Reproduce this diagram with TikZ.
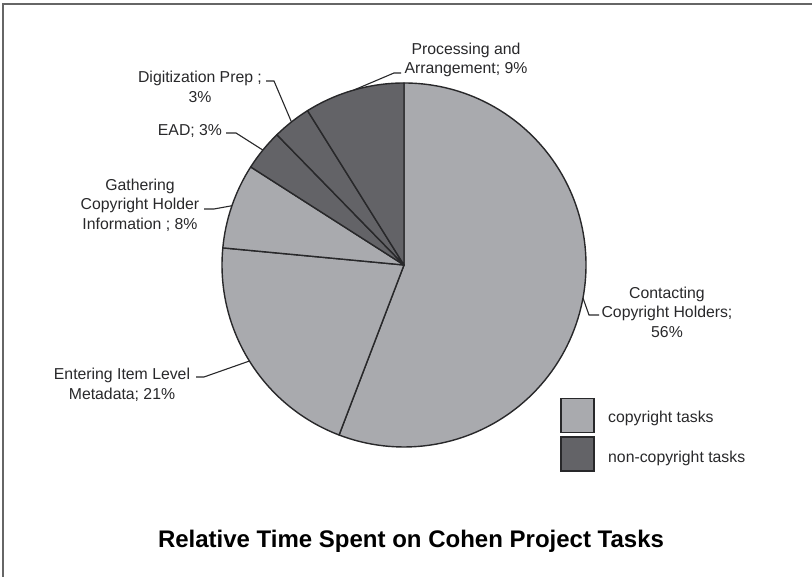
\documentclass[tikz,border=0pt]{standalone}
\usepackage{fontspec}
\setmainfont{Liberation Sans}
\usetikzlibrary{calc}

\definecolor{sliceLight}{RGB}{169,170,174}
\definecolor{sliceDark}{RGB}{99,99,103}
\definecolor{inkGray}{RGB}{40,40,42}

\begin{document}
\begin{tikzpicture}
    [x=1pt,y=1pt,
     light/.style={fill=sliceLight,draw=inkGray,line width=1.4pt,line join=round},
     dark/.style={fill=sliceDark,draw=inkGray,line width=1.4pt,line join=round},
     lead/.style={draw=inkGray,line width=1.1pt},
     lbl/.style={align=center,inner sep=0pt,text=inkGray,
       font=\fontsize{15.8}{19.5}\selectfont},
     key/.style={draw=inkGray,line width=1.2pt,minimum width=33pt,minimum height=34pt,inner sep=0pt}]
    \useasboundingbox (0,0) rectangle (812,577);
    \draw [gray!80!black,line width=1.6pt] (3,0) -- (3,573) -- (812,573);

    % pie, clockwise from the top
    \coordinate (c) at (404,312);
    \filldraw [light] (c) -- ++(90:182) arc [start angle=90, end angle=-110.9, radius=182] -- cycle;
    \filldraw [light] (c) -- ++(249.1:182) arc [start angle=249.1, end angle=174.6, radius=182] -- cycle;
    \filldraw [light] (c) -- ++(174.6:182) arc [start angle=174.6, end angle=147.4, radius=182] -- cycle;
    \filldraw [dark] (c) -- ++(147.4:182) arc [start angle=147.4, end angle=134.3, radius=182] -- cycle;
    \filldraw [dark] (c) -- ++(134.3:182) arc [start angle=134.3, end angle=122, radius=182] -- cycle;
    \filldraw [dark] (c) -- ++(122:182) arc [start angle=122, end angle=90, radius=182] -- cycle;

    % points on the rim for the leaders
    \coordinate (pCont) at ($(c)+(349.55:182)$);
    \coordinate (pEnt) at ($(c)+(211.85:182)$);
    \coordinate (pGath) at ($(c)+(161:182)$);
    \coordinate (pEad) at ($(c)+(140.85:182)$);
    \coordinate (pDig) at ($(c)+(128.2:182)$);
    \coordinate (pProc) at ($(c)+(106:182)$);

    % labels
    \node [lbl] (proc) at (466,517) {Processing and\\Arrangement; 9\%};
    \node [lbl] (dig) at (200,490) {Digitization Prep ;\\3\%};
    \node [lbl] (ead) at (190,446) {EAD; 3\%};
    \node [lbl] (gath) at (140,372) {Gathering\\Copyright Holder\\Information ; 8\%};
    \node [lbl] (ent) at (122,192) {Entering Item Level\\Metadata; 21\%};
    \node [lbl] (cont) at (667,265) {Contacting\\Copyright Holders;\\56\%};

    \coordinate (eProc) at (401,504);
    \coordinate (eDig) at (266,496);
    \coordinate (eEad) at (226,444);
    \coordinate (eGath) at (204,368);
    \coordinate (eEnt) at (196,200);
    \coordinate (eCont) at (599,262);

    \draw [lead] (pProc) -- (394,504) -- (eProc);
    \draw [lead] (pDig) -- (274,496) -- (eDig);
    \draw [lead] (pEad) -- (236,444) -- (eEad);
    \draw [lead] (pGath) -- (214,368) -- (eGath);
    \draw [lead] (pEnt) -- (204,200) -- (eEnt);
    \draw [lead] (pCont) -- (589,262) -- (eCont);

    % key
    \node [key,fill=sliceLight] (k1) at (577.5,161.5) {};
    \node [key,fill=sliceDark] (k2) at (577.5,123) {};
    \node [lbl,anchor=west] (t1) at (608,159) {copyright tasks};
    \node [lbl,anchor=west] (t2) at (608,119) {non-copyright tasks};

    \node [anchor=base,inner sep=0pt,font=\fontsize{24}{28}\selectfont\bfseries] (title) at (411,29)
      {Relative Time Spent on Cohen Project Tasks};
\end{tikzpicture}
\end{document}
